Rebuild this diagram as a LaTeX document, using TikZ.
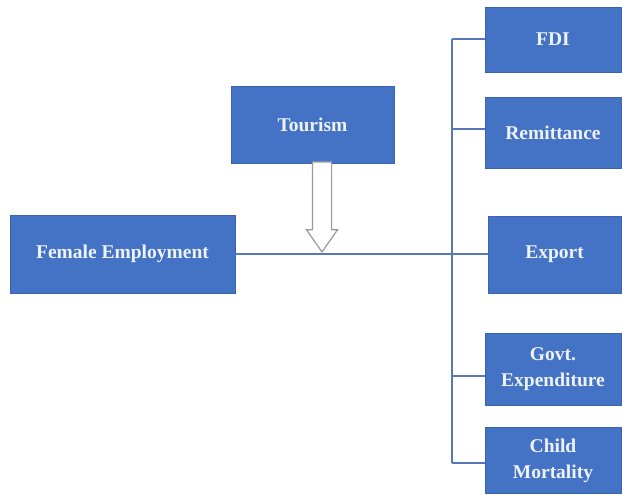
\documentclass[tikz,border=0pt]{standalone}
\usepackage{fontspec}
\setmainfont{Liberation Serif}
\usetikzlibrary{shapes}
\usetikzlibrary{shapes.arrows}
\definecolor{boxblue}{HTML}{4472C4}
\definecolor{boxedge}{HTML}{3B64B0}
\definecolor{linkblue}{HTML}{5A78B8}
\definecolor{labeltext}{HTML}{EEF2FA}
\tikzset{
    varnode/.style = {rectangle, thin, draw=boxedge, align=center, fill=boxblue, font=\bfseries\fontsize{19.5}{26}\selectfont, text=labeltext, inner sep=2pt},
    edgel/.style = {-, line width=1.2pt, linkblue},
    blockarrow/.style = {single arrow, draw=gray!80, fill=white, line width=1.2pt, shape border rotate=270, inner sep=0pt, minimum width=31pt, single arrow head extend=6pt, single arrow tip angle=70}
}

\begin{document}
\begin{tikzpicture}[x=1pt,y=-1pt]
  \useasboundingbox (0,0) rectangle (622,495);
  % independent variable and mediator
  \node[varnode, minimum width=225pt, minimum height=78pt] (fe) at (122.5,254) {Female Employment};
  \node[varnode, minimum width=163pt, minimum height=77pt] (tour) at (312.5,124.5) {Tourism};
  % controls
  \node[varnode, minimum width=136pt, minimum height=65pt] (fdi) at (553,39.5) {FDI};
  \node[varnode, minimum width=136pt, minimum height=71pt] (rem) at (553,132.5) {Remittance};
  \node[varnode, minimum width=133pt, minimum height=77pt] (exp) at (554.5,254.5) {Export};
  \node[varnode, minimum width=136pt, minimum height=72pt] (govt) at (553,369.5) {Govt.\\Expenditure};
  \node[varnode, minimum width=136pt, minimum height=66pt] (child) at (553,460.5) {Child\\Mortality};
  % trunk
  \coordinate (b1) at (452,39);
  \coordinate (b2) at (452,129);
  \coordinate (b3) at (452,376);
  \coordinate (b4) at (452,463);
  \draw[edgel] (b1) -- (b4);
  \draw[edgel] (b1) -- (b1 -| fdi.west);
  \draw[edgel] (b2) -- (b2 -| rem.west);
  \draw[edgel] (b3) -- (b3 -| govt.west);
  \draw[edgel] (b4) -- (b4 -| child.west);
  \draw[edgel] (fe.east) -- (fe.east -| exp.west);
  % moderation arrow
  \node[blockarrow, minimum height=90pt, minimum width=31pt, anchor=tip, text width=18pt] (arr) at (322,253) {};
\end{tikzpicture}
\end{document}
